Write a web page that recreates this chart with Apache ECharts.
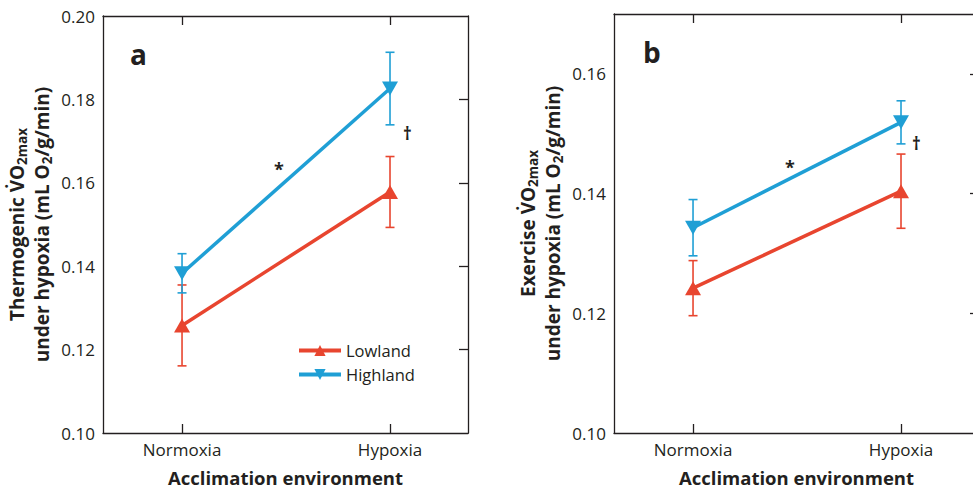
<!DOCTYPE html>
<html>
<head>
<meta charset="utf-8">
<script src="https://cdn.jsdelivr.net/npm/echarts@6/dist/echarts.min.js"></script>
<style>html,body{margin:0;padding:0;background:#fff}#c{width:973px;height:489px}</style>
</head>
<body>
<div id="c"></div>
<script>
const categories = ['Normoxia', 'Hypoxia'];
const seriesNames = ['Lowland', 'Highland'];
const aLowland = [0.1258, 0.1578];
const aLowlandErr = [0.0097, 0.0085];
const aHighland = [0.1383, 0.1826];
const aHighlandErr = [0.0047, 0.0087];
const bLowland = [0.1242, 0.1404];
const bLowlandErr = [0.0046, 0.0062];
const bHighland = [0.1343, 0.1519];
const bHighlandErr = [0.0047, 0.0036];
const aTicks = [0.10, 0.12, 0.14, 0.16, 0.18, 0.20];
const bTicks = [0.10, 0.12, 0.14, 0.16];

const INK = '#231f20';
const RED = '#e8452f';
const BLUE = '#1f9fd5';
const FONT = 'Open Sans';

const chart = echarts.init(document.getElementById('c'), null, {renderer: 'svg'});

function xAxes(gridIndex, top) {
  return {
    type: 'value', gridIndex: gridIndex, min: -0.38, max: 1.375,
    position: top ? 'top' : 'bottom',
    axisLine: {show: true, onZero: false, lineStyle: {color: INK, width: 1.3}},
    axisTick: {show: true, inside: true, length: 9, customValues: [0, 1], lineStyle: {color: INK, width: 1.3}},
    axisLabel: top ? {show: false} : {show: true, customValues: [0, 1], color: INK, fontSize: 17, fontFamily: FONT, margin: 8,
      formatter: v => categories[Math.round(v)]},
    splitLine: {show: false},
    name: top ? '' : 'Acclimation environment',
    nameLocation: 'middle', nameGap: 35,
    nameTextStyle: {color: INK, fontSize: 18.5, fontWeight: 'bold', fontFamily: FONT}
  };
}

function yRich() {
  return {
    m: {fontSize: 19, fontWeight: 'bold', fontFamily: FONT, color: INK, lineHeight: 25},
    s: {fontSize: 13.5, fontWeight: 'bold', fontFamily: FONT, color: INK, lineHeight: 25, verticalAlign: 'bottom', padding: [8, 0, 0, 0]}
  };
}

function yAxes(gridIndex, right, max, ticks, label1) {
  const ax = {
    type: 'value', gridIndex: gridIndex, min: 0.10, max: max, interval: 0.02,
    position: right ? 'right' : 'left',
    axisLine: {show: true, onZero: false, lineStyle: {color: INK, width: 1.3}},
    splitLine: {show: false}
  };
  if (right) {
    ax.axisTick = {show: true, inside: true, length: 9, customValues: ticks.slice(1).filter(v => v < max - 1e-9), lineStyle: {color: INK, width: 1.3}};
    ax.axisLabel = {show: false};
  } else {
    ax.axisTick = {show: false};
    ax.axisLabel = {show: true, customValues: ticks, color: INK, fontSize: 17, fontFamily: FONT, margin: 8, formatter: v => v.toFixed(2)};
    ax.name = '{m|' + label1 + ' V\u0307O}{s|2max}\n{m|under hypoxia (mL O}{s|2}{m|/g/min)}';
    ax.nameLocation = 'middle';
    ax.nameGap = 49;
    ax.nameRotate = 90;
    ax.nameTextStyle = {rich: yRich()};
  }
  return ax;
}

function errSeries(name, xIdx, yIdx, vals, errs, color) {
  return {
    type: 'custom', name: name + ' err', xAxisIndex: xIdx, yAxisIndex: yIdx, z: 1, silent: true,
    data: vals.map((v, i) => [i, v - errs[i], v + errs[i]]),
    renderItem: function (params, api) {
      const lo = api.coord([api.value(0), api.value(1)]);
      const hi = api.coord([api.value(0), api.value(2)]);
      const w = 4.5;
      const st = {stroke: color, lineWidth: 1.6};
      return {type: 'group', children: [
        {type: 'line', shape: {x1: lo[0], y1: lo[1], x2: hi[0], y2: hi[1]}, style: st},
        {type: 'line', shape: {x1: lo[0] - w, y1: lo[1], x2: lo[0] + w, y2: lo[1]}, style: st},
        {type: 'line', shape: {x1: hi[0] - w, y1: hi[1], x2: hi[0] + w, y2: hi[1]}, style: st}
      ]};
    }
  };
}

function lineSeries(name, xIdx, yIdx, vals, color, down) {
  return {
    type: 'line', name: name, xAxisIndex: xIdx, yAxisIndex: yIdx, z: 3,
    data: vals.map((v, i) => [i, v]),
    symbol: 'triangle', symbolSize: [16, 14], symbolRotate: down ? 180 : 0,
    lineStyle: {color: color, width: 3.5}, itemStyle: {color: color},
    showSymbol: true, animation: false
  };
}

const option = {
  animation: false,
  grid: [
    {left: 103, top: 16, width: 365, height: 417, outerBoundsMode: 'none', containLabel: false},
    {left: 614, top: 14, width: 365, height: 419, outerBoundsMode: 'none', containLabel: false}
  ],
  xAxis: [xAxes(0, false), xAxes(0, true), xAxes(1, false), xAxes(1, true)],
  yAxis: [
    yAxes(0, false, 0.20, aTicks, 'Thermogenic'), yAxes(0, true, 0.20, aTicks),
    yAxes(1, false, 0.17, bTicks, 'Exercise'), yAxes(1, true, 0.17, bTicks)
  ],
  legend: {
    data: seriesNames, left: 292, top: 337, orient: 'vertical', itemGap: 7,
    itemWidth: 42, itemHeight: 14,
    lineStyle: {width: 4},
    textStyle: {color: INK, fontSize: 16.5, fontFamily: FONT}
  },
  series: [
    errSeries('Lowland', 0, 0, aLowland, aLowlandErr, RED),
    errSeries('Highland', 0, 0, aHighland, aHighlandErr, BLUE),
    lineSeries('Lowland', 0, 0, aLowland, RED, false),
    lineSeries('Highland', 0, 0, aHighland, BLUE, true),
    errSeries('Lowland', 2, 2, bLowland, bLowlandErr, RED),
    errSeries('Highland', 2, 2, bHighland, bHighlandErr, BLUE),
    lineSeries('Lowland', 2, 2, bLowland, RED, false),
    lineSeries('Highland', 2, 2, bHighland, BLUE, true)
  ],
  graphic: [
    {type: 'text', left: 130, top: 40, style: {text: 'a', fontSize: 28, fontWeight: 'bold', fontFamily: FONT, fill: INK}},
    {type: 'text', left: 643, top: 38, style: {text: 'b', fontSize: 28, fontWeight: 'bold', fontFamily: FONT, fill: INK}},
    {type: 'text', left: 274, top: 160, style: {text: '*', fontSize: 18, fontWeight: 'bold', fontFamily: FONT, fill: INK}},
    {type: 'text', left: 403, top: 125, style: {text: '\u2020', fontSize: 17, fontWeight: 'bold', fontFamily: FONT, fill: INK}},
    {type: 'text', left: 785, top: 158, style: {text: '*', fontSize: 18, fontWeight: 'bold', fontFamily: FONT, fill: INK}},
    {type: 'text', left: 912, top: 135, style: {text: '\u2020', fontSize: 17, fontWeight: 'bold', fontFamily: FONT, fill: INK}}
  ]
};
chart.setOption(option);
</script>
</body>
</html>
